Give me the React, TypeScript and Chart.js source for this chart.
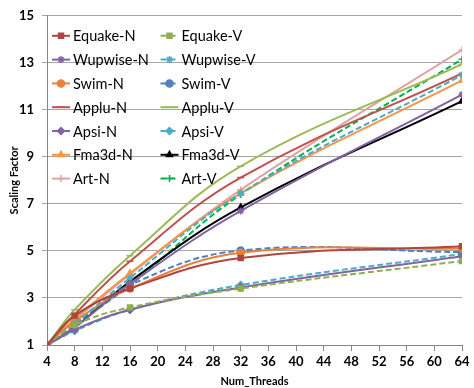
import React, { useEffect, useRef } from "react";
import { Chart, registerables } from "chart.js";
import { drawPoint } from "chart.js/helpers";

Chart.register(...registerables);

const threads = [4, 8, 16, 32, 64];
const seriesNames = [
  "Equake-N", "Equake-V", "Wupwise-N", "Wupwise-V", "Swim-N", "Swim-V", "Applu-N",
  "Applu-V", "Apsi-N", "Apsi-V", "Fma3d-N", "Fma3d-V", "Art-N", "Art-V",
];
const equakeN = [1, 2.25, 3.4, 4.7, 5.2];
const equakeV = [1, 1.85, 2.6, 3.4, 4.57];
const wupwiseN = [1, 1.75, 3.6, 6.7, 11.65];
const wupwiseV = [1, 1.9, 3.85, 7.45, 12.48];
const swimN = [1, 2.0, 3.4, 4.92, 5.1];
const swimV = [1, 1.9, 3.55, 5.02, 4.95];
const appluN = [1, 2.3, 4.56, 8.12, 12.55];
const appluV = [1, 2.5, 4.8, 8.6, 12.94];
const apsiN = [1, 1.65, 2.5, 3.45, 4.78];
const apsiV = [1, 1.6, 2.5, 3.55, 4.87];
const fma3dN = [1, 2.1, 4.05, 7.45, 12.25];
const fma3dV = [1, 1.75, 3.7, 6.85, 11.37];
const artN = [1, 2.05, 4.0, 7.6, 13.55];
const artV = [1, 1.85, 3.55, 7.4, 13.15];
const seriesValues = [
  equakeN, equakeV, wupwiseN, wupwiseV, swimN, swimV, appluN,
  appluV, apsiN, apsiV, fma3dN, fma3dV, artN, artV,
];
const seriesColors = [
  "#B0443F", "#8EB04C", "#8064A2", "#4BACC6", "#E8823A", "#4F81BD", "#C0504D",
  "#9BBB59", "#8064A2", "#4BACC6", "#F79646", "#000000", "#E0A3A1", "#00B050",
];
const seriesDashed = [false, true, false, true, false, true, false, false, false, true, false, false, false, true];
const seriesMarkers = [
  "rect", "rect", "star", "star", "circle", "circle", "line",
  "line", "rectRot", "rectRot", "triangle", "triangle", "cross", "cross",
];
const yTicks = [1, 3, 5, 7, 9, 11, 13, 15];
const xTicks = [4, 8, 12, 16, 20, 24, 28, 32, 36, 40, 44, 48, 52, 56, 60, 64];

const FONT = "Lato, 'DejaVu Sans', sans-serif";

const legendPlugin = {
  id: "insideLegend",
  afterDatasetsDraw(chart: any) {
    const ctx = chart.ctx;
    const area = chart.chartArea;
    ctx.save();
    chart.data.datasets.forEach((ds: any, i: number) => {
      const col = i % 2;
      const row = Math.floor(i / 2);
      const x0 = area.left + 5 + col * 108.5;
      const y = area.top + 20 + row * 23.8;
      ctx.strokeStyle = ds.borderColor;
      ctx.lineWidth = 2;
      ctx.setLineDash(ds.borderDash || []);
      ctx.beginPath();
      ctx.moveTo(x0, y);
      ctx.lineTo(x0 + 18, y);
      ctx.stroke();
      ctx.setLineDash([]);
      ctx.fillStyle = ds.pointBackgroundColor;
      ctx.strokeStyle = ds.pointBorderColor;
      ctx.lineWidth = 1.5;
      drawPoint(ctx, { pointStyle: ds.pointStyle, radius: 3.5, rotation: 0, borderWidth: 1.5 }, x0 + 9, y);
      ctx.fillStyle = "#000";
      ctx.font = `14.5px ${FONT}`;
      ctx.textBaseline = "middle";
      ctx.textAlign = "left";
      ctx.fillText(ds.label, x0 + 21, y + 1);
    });
    ctx.restore();
  },
};

export default function App() {
  const ref = useRef<HTMLCanvasElement>(null);
  useEffect(() => {
    if (!ref.current) return;
    const datasets = seriesNames.map((name, i) => ({
      label: name,
      data: threads.map((t, j) => ({ x: t, y: seriesValues[i][j] })),
      borderColor: seriesColors[i],
      backgroundColor: seriesColors[i],
      pointBackgroundColor: seriesColors[i],
      pointBorderColor: seriesColors[i],
      borderWidth: 2,
      borderDash: seriesDashed[i] ? [6, 3] : [],
      pointStyle: seriesMarkers[i],
      pointRadius: 3.5,
      pointBorderWidth: 1.5,
      tension: 0.4,
      fill: false,
    }));
    const chart = new Chart(ref.current, {
      type: "line",
      data: { datasets },
      plugins: [legendPlugin],
      options: {
        responsive: false,
        animation: false,
        layout: { padding: { left: 0, right: 12, top: 8, bottom: 0 } },
        plugins: { legend: { display: false }, tooltip: { enabled: false } },
        scales: {
          x: {
            type: "linear",
            min: 4,
            max: 64,
            afterBuildTicks: (s: any) => { s.ticks = xTicks.map((v) => ({ value: v })); },
            afterFit: (s: any) => { s.height = 43; },
            grid: { drawOnChartArea: false, drawTicks: true, tickLength: 6, color: "#868686" },
            border: { display: true, color: "#868686", width: 1 },
            ticks: { color: "#000", font: { family: FONT, size: 13, weight: "bold" }, padding: 3, maxRotation: 0 },
            title: { display: true, text: "Num_Threads", color: "#000", font: { family: FONT, size: 11, weight: "bold" }, padding: { top: -4, bottom: 0 } },
          },
          y: {
            type: "linear",
            min: 1,
            max: 15,
            afterBuildTicks: (s: any) => { s.ticks = yTicks.map((v) => ({ value: v })); },
            afterFit: (s: any) => { s.width = 47; },
            grid: { color: "#A6A6A6", drawTicks: true, tickLength: 5 },
            border: { display: true, color: "#868686", width: 1 },
            ticks: { color: "#000", font: { family: FONT, size: 13, weight: "bold" }, padding: 8 },
            title: { display: true, text: "Scaling Factor", color: "#000", font: { family: FONT, size: 11, weight: "bold" }, padding: { top: 8, bottom: 0 } },
          },
        },
      } as any,
    });
    return () => chart.destroy();
  }, []);
  return (
    <div style={{ position: "fixed", left: 0, top: 0, width: 474, height: 388, background: "#fff" }}>
      <canvas ref={ref} width={474} height={388} />
    </div>
  );
}
